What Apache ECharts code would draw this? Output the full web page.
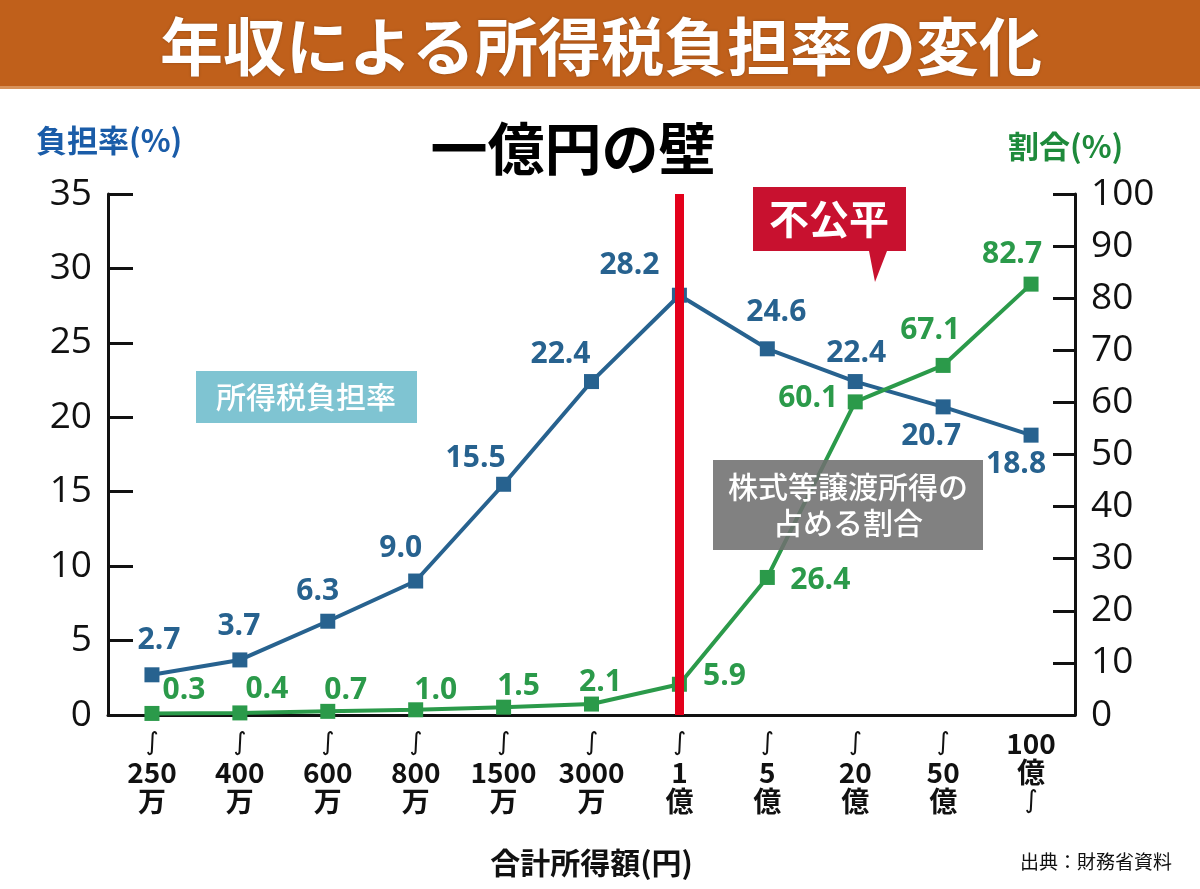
<!DOCTYPE html>
<html>
<head>
<meta charset="utf-8">
<script src="https://cdn.jsdelivr.net/npm/echarts@6.0.0/dist/echarts.min.js"></script>
<style>
html,body{margin:0;padding:0;background:#fff}
#main{width:1200px;height:889px}
</style>
</head>
<body>
<div id="main"></div>
<script>
// 年収階層（上限）
var bounds = ['250','400','600','800','1500','3000','1','5','20','50','100']
var units  = ['万','万','万','万','万','万','億','億','億','億','億']
var categories = bounds.map(function(b,i){ return b + units[i] })

// 所得税負担率(%) と 株式等譲渡所得の占める割合(%)
var taxRate    = [2.7,3.7,6.3,9.0,15.5,22.4,28.2,24.6,22.4,20.7,18.8]
var stockShare = [0.3,0.4,0.7,1.0,1.5,2.1,5.9,26.4,60.1,67.1,82.7]

// ラベルの位置調整（マーカー中心からのずれ）
var taxLabelOffset   = [[7,-34],[-1,-33],[-10,-30],[-15,-33],[-28,-26],[-31,-27],[-50,-30],[9,-36],[1,-28],[-12,30],[-15,29]]
var shareLabelOffset = [[32,-23],[27,-23],[18,-21],[20,-19],[15,-21],[9,-22],[45,-8],[53,3],[-47,-3],[-13,-35],[-19,-30]]

var BLUE = '#27628f'
var GREEN = '#2b9a4a'
var CJK = '"Noto Sans CJK JP", sans-serif'
var NUM = '"Open Sans", "Noto Sans", sans-serif'

var chart = echarts.init(document.getElementById('main'))

function withOffset(values, offsets){
	return values.map(function(v,i){
		return { value: v, label: { offset: offsets[i] } }
	})
}

var axisLineStyle = { color: '#111', width: 3 }

chart.setOption({
	animation: false,
	backgroundColor: '#fff',
	grid: { left: 108, right: 125, top: 194, bottom: 174 },
	xAxis: {
		type: 'category',
		data: categories,
		boundaryGap: true,
		axisLine: { lineStyle: axisLineStyle },
		axisTick: { inside: true, length: 11, lineStyle: { color: '#111', width: 3 } },
		axisLabel: {
			interval: 0,
			margin: 14,
			color: '#111',
			fontFamily: CJK,
			fontWeight: 'bold',
			fontSize: 28,
			lineHeight: 29,
			rich: {
				w: { fontFamily: '"DejaVu Sans", sans-serif', fontWeight: 'normal', fontSize: 25, lineHeight: 29, color: '#111' }
			},
			formatter: function(v, i){
				if(i == bounds.length - 1) return bounds[i] + '\n' + units[i] + '\n{w|∫}'
				return '{w|∫}\n' + bounds[i] + '\n' + units[i]
			}
		},
		name: '合計所得額(円)',
		nameLocation: 'middle',
		nameGap: 133,
		nameTextStyle: { color: '#111', fontFamily: CJK, fontWeight: 'bold', fontSize: 30 }
	},
	yAxis: [
		{
			type: 'value', min: 0, max: 35, interval: 5,
			splitLine: { show: false },
			axisLine: { show: true, lineStyle: axisLineStyle },
			axisTick: { show: true, inside: true, length: 25, lineStyle: { color: '#111', width: 3 } },
			axisLabel: { margin: 16, color: '#111', fontFamily: NUM, fontSize: 37 }
		},
		{
			type: 'value', min: 0, max: 100, interval: 10,
			position: 'right',
			splitLine: { show: false },
			axisLine: { show: true, lineStyle: axisLineStyle },
			axisTick: { show: true, inside: true, length: 22, lineStyle: { color: '#111', width: 3 } },
			axisLabel: { margin: 16, color: '#111', fontFamily: NUM, fontSize: 37 }
		}
	],
	series: [
		{
			// 一億円の壁（赤い縦線）
			type: 'line',
			z: 1,
			silent: true,
			showSymbol: false,
			data: categories.map(function(){ return null }),
			markLine: {
				silent: true,
				symbol: ['none','none'],
				label: { show: false },
				lineStyle: { color: '#e3001b', width: 9, type: 'solid' },
				data: [{ xAxis: 6 }]
			}
		},
		{
			name: '所得税負担率',
			type: 'line',
			z: 3,
			yAxisIndex: 0,
			data: withOffset(taxRate, taxLabelOffset),
			symbol: 'rect',
			symbolSize: 15,
			lineStyle: { color: BLUE, width: 4 },
			itemStyle: { color: BLUE },
			label: {
				show: true,
				position: 'inside',
				color: BLUE,
				fontFamily: NUM,
				fontWeight: 'bold',
				fontSize: 30,
				formatter: function(p){ return p.value.toFixed(1) }
			}
		},
		{
			name: '株式等譲渡所得の占める割合',
			type: 'line',
			z: 4,
			yAxisIndex: 1,
			data: withOffset(stockShare, shareLabelOffset),
			symbol: 'rect',
			symbolSize: 15,
			lineStyle: { color: GREEN, width: 4 },
			itemStyle: { color: GREEN },
			label: {
				show: true,
				position: 'inside',
				color: GREEN,
				fontFamily: NUM,
				fontWeight: 'bold',
				fontSize: 30,
				formatter: function(p){ return p.value.toFixed(1) }
			}
		}
	],
	graphic: [
		// タイトル帯
		{ type: 'rect', shape: { x: 0, y: 0, width: 1200, height: 88 }, style: { fill: '#c0601b' }, z: 100 },
		{ type: 'rect', shape: { x: 0, y: 86, width: 1200, height: 3 }, style: { fill: '#d8925a' }, z: 100 },
		{ type: 'text', x: 601, y: 46, z: 101, style: {
			text: '年収による所得税負担率の変化', fill: '#fff',
			font: 'bold 63px ' + CJK, textAlign: 'center', textVerticalAlign: 'middle',
			textShadowColor: 'rgba(0,0,0,0.25)', textShadowBlur: 3
		}},
		{ type: 'text', x: 573, y: 148, z: 101, style: {
			text: '一億円の壁', fill: '#000',
			font: 'bold 57px ' + CJK, textAlign: 'center', textVerticalAlign: 'middle'
		}},
		{ type: 'text', x: 36, y: 140, z: 101, style: {
			text: '負担率(%)', fill: '#1a5ca8',
			font: 'bold 31px ' + CJK, textAlign: 'left', textVerticalAlign: 'middle'
		}},
		{ type: 'text', x: 1008, y: 146, z: 101, style: {
			text: '割合(%)', fill: '#1e8a3b',
			font: 'bold 31px ' + CJK, textAlign: 'left', textVerticalAlign: 'middle'
		}},
		// 不公平 吹き出し
		{ type: 'polygon', z: 101, shape: { points: [[753,187],[906,187],[906,251],[887,251],[875,282],[869,251],[753,251]] }, style: { fill: '#c8112f' } },
		{ type: 'text', x: 829, y: 219, z: 102, style: {
			text: '不公平', fill: '#fff',
			font: 'bold 40px ' + CJK, textAlign: 'center', textVerticalAlign: 'middle'
		}},
		// 凡例ボックス
		{ type: 'rect', z: 101, shape: { x: 196, y: 371, width: 221, height: 52 }, style: { fill: '#7fc4d2' } },
		{ type: 'text', x: 306, y: 397, z: 102, style: {
			text: '所得税負担率', fill: '#fff',
			font: '500 30px ' + CJK, textAlign: 'center', textVerticalAlign: 'middle'
		}},
		{ type: 'rect', z: 101, shape: { x: 713, y: 460, width: 270, height: 90 }, style: { fill: 'rgba(112,112,112,0.88)' } },
		{ type: 'text', x: 848, y: 505, z: 102, style: {
			text: '株式等譲渡所得の\n占める割合', fill: '#fff',
			font: '500 30px ' + CJK, lineHeight: 36, textAlign: 'center', textVerticalAlign: 'middle'
		}},
		{ type: 'text', x: 1020, y: 862, z: 101, style: {
			text: '出典：財務省資料', fill: '#111',
			font: '19px ' + CJK, textAlign: 'left', textVerticalAlign: 'middle'
		}}
	]
})
</script>
</body>
</html>
